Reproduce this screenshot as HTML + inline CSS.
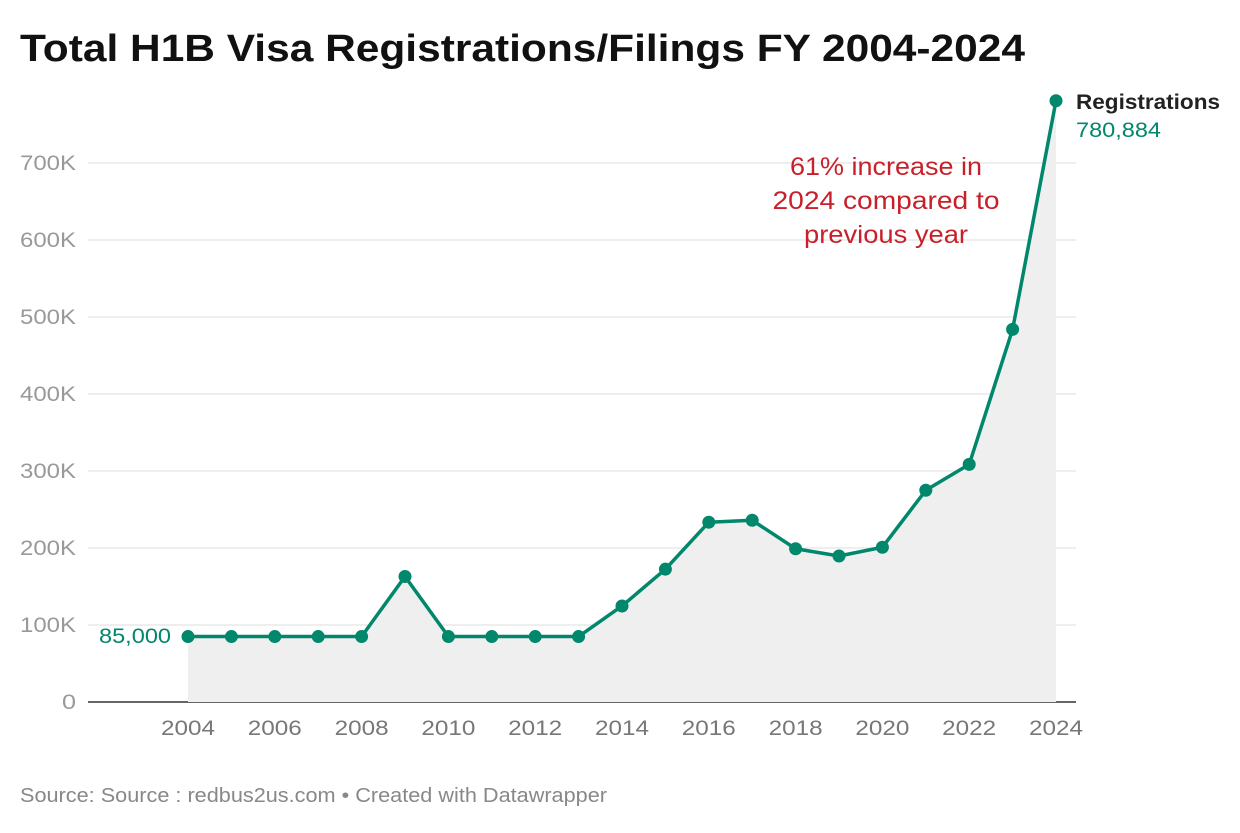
<!DOCTYPE html>
<html><head><meta charset="utf-8"><style>
body{margin:0;background:#fff;width:1240px;height:828px;overflow:hidden;font-family:"Liberation Sans",Arial,sans-serif}
</style></head><body>
<svg width="1240" height="828" font-family="Liberation Sans, Arial, sans-serif">
<text x="20" y="61" font-size="38" font-weight="bold" fill="#111" textLength="1005" lengthAdjust="spacingAndGlyphs">Total H1B Visa Registrations/Filings FY 2004-2024</text>
<g id="grid"></g><g id="area"></g><g id="line"></g>
<text x="1076" y="109" font-size="21" font-weight="bold" fill="#222" textLength="144" lengthAdjust="spacingAndGlyphs">Registrations</text>
<text x="1076" y="137" font-size="21" fill="#00876c" textLength="85" lengthAdjust="spacingAndGlyphs">780,884</text>
<text x="171" y="643" font-size="21" fill="#00876c" text-anchor="end" textLength="72" lengthAdjust="spacingAndGlyphs">85,000</text>
<text font-size="25" fill="#c8202a" text-anchor="middle"><tspan x="886" y="175" textLength="192" lengthAdjust="spacingAndGlyphs">61% increase in</tspan><tspan x="886" y="209" textLength="227" lengthAdjust="spacingAndGlyphs">2024 compared to</tspan><tspan x="886" y="243" textLength="164" lengthAdjust="spacingAndGlyphs">previous year</tspan></text>
<text x="20" y="802" font-size="20" fill="#888" textLength="587" lengthAdjust="spacingAndGlyphs">Source: Source : redbus2us.com • Created with Datawrapper</text>
</svg>
<script>
const years=[2004,2005,2006,2007,2008,2009,2010,2011,2012,2013,2014,2015,2016,2017,2018,2019,2020,2021,2022,2023,2024];
const values=[85000,85000,85000,85000,85000,163000,85000,85000,85000,85000,124700,172500,233500,236000,199000,189600,201000,275000,308600,483900,780884];
const yTicks=[0,100000,200000,300000,400000,500000,600000,700000];
const yTickLabels=["0","100K","200K","300K","400K","500K","600K","700K"];
const xTicks=[2004,2006,2008,2010,2012,2014,2016,2018,2020,2022,2024];
const NS="http://www.w3.org/2000/svg";
const xS=y=>188+(y-2004)*(1056-188)/20;
const yS=v=>702-v*77/100000;
function mk(t,a,p){const e=document.createElementNS(NS,t);for(const k in a)e.setAttribute(k,a[k]);p.appendChild(e);return e;}
const grid=document.getElementById('grid');
yTicks.forEach((v,i)=>{
 const l=mk('line',{x1:88,x2:1076,y1:yS(v),y2:yS(v),stroke:i==0?'#333':'#ddd','stroke-width':i==0?1.5:1},grid);
 
 
 const t=mk('text',{x:76,y:yS(v)+7,'font-size':21,fill:'#999','text-anchor':'end',textLength:yTickLabels[i].length*14,lengthAdjust:'spacingAndGlyphs'},grid);
 t.textContent=yTickLabels[i];
 
 
});
xTicks.forEach(y=>{
 const t=mk('text',{x:xS(y),y:735,'font-size':21,fill:'#777','text-anchor':'middle',textLength:54,lengthAdjust:'spacingAndGlyphs'},grid);
 t.textContent=y;
 
 
});
const pts=years.map((y,i)=>[xS(y),yS(values[i])]);
const area=mk('path',{d:'M'+xS(years[0])+','+yS(0)+' L'+pts.map(p=>p.join(',')).join(' L')+' L'+xS(years[years.length-1])+','+yS(0)+'Z',fill:'#efefef'},document.getElementById('area'));


const lg=document.getElementById('line');
const ln=mk('polyline',{points:pts.map(p=>p.join(',')).join(' '),fill:'none',stroke:'#00876c','stroke-width':3.5,'stroke-linejoin':'round'},lg);


pts.forEach(p=>{
 const c=mk('circle',{cx:p[0],cy:p[1],r:6.5,fill:'#00876c'},lg);
 
 
});
</script>
</body></html>
